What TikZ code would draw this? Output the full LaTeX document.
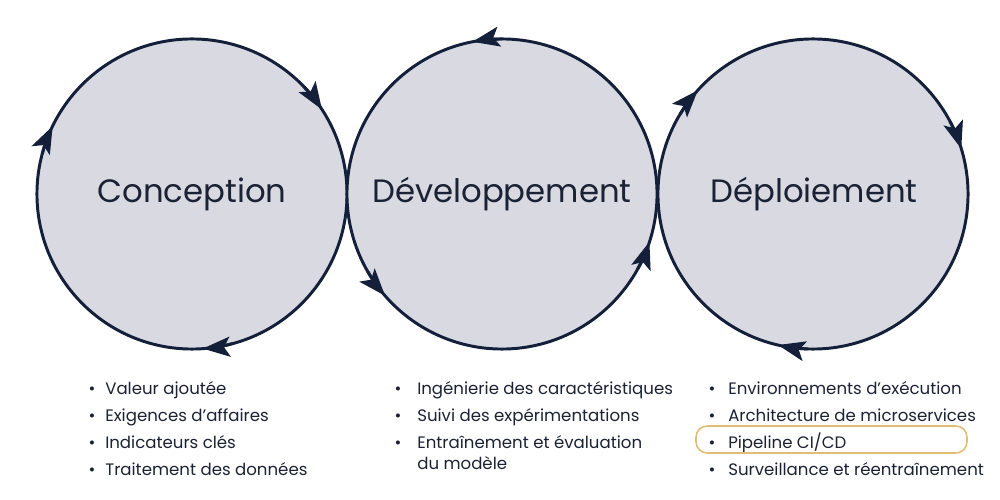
\documentclass[tikz,border=0pt]{standalone}
\usepackage{fontspec}
\setmainfont{Poppins}
\usetikzlibrary{arrows.meta}

\definecolor{ink}{HTML}{14203A}
\definecolor{txt}{HTML}{1B2233}
\definecolor{disc}{HTML}{D9D9E2}
\definecolor{gold}{HTML}{E2BC72}

\tikzset{
	phase/.style={circle, draw=ink, line width=2.1pt, fill=disc, minimum size=7.75cm, inner sep=0pt, outer sep=0pt},
	title/.style={anchor=base, text=txt, font=\fontsize{23}{28}\selectfont},
	flow/.style={draw=ink, line width=2.1pt, -{Stealth[length=0.68cm, width=0.5cm, inset=0.15cm]}},
	item/.style={anchor=base west, text=txt, font=\fontsize{11.8}{15}\selectfont, inner sep=0pt},
	dot/.style={anchor=base, text=txt, font=\fontsize{11.8}{15}\selectfont, inner sep=0pt},
}

\begin{document}
\begin{tikzpicture}[x=0.025cm, y=0.025cm]
							\useasboundingbox[fill=white] (0,0) rectangle (1000,500);
							
							% Draw the three phase circles
							\node[phase] (con) at (192,306) {};
							\node[phase] (dev) at (502,306) {};
							\node[phase] (dep) at (813,306) {};
							
							% Titles
							\node[title] (con-t) at (192,297) {Conception};
							\node[title] (dev-t) at (502,297) {Développement};
							\node[title] (dep-t) at (814,297) {Déploiement};
							
							% Draw arrows on the circles (clockwise, counterclockwise, clockwise)
							\foreach \a in {33,154,-86}
							\draw[flow] ([shift={(\a+11:155)}]con.center) arc[start angle=\a+11, end angle=\a, radius=155];
							\foreach \a in {101,-139,-18}
							\draw[flow] ([shift={(\a-11:155)}]dev.center) arc[start angle=\a-11, end angle=\a, radius=155];
							\foreach \a in {138,17,-103}
							\draw[flow] ([shift={(\a+11:155)}]dep.center) arc[start angle=\a+11, end angle=\a, radius=155];
							
							% Bullet list under Conception
							\foreach \txt [count=\i] in {Valeur ajoutée, Exigences d’affaires, Indicateurs clés, Traitement des données}{
								\node[dot] (con-b\i) at (92,105-27*\i+27) {•};
								\node[item] (con-\i) at (105,105-27*\i+27) {\txt};
							}
							
							% Bullet list under Développement
							\foreach \txt [count=\i] in {Ingénierie des caractéristiques, Suivi des expérimentations, Entraînement et évaluation}{
								\node[dot] (dev-b\i) at (398,105-27*\i+27) {•};
								\node[item] (dev-\i) at (417,105-27*\i+27) {\txt};
							}
							\node[item] (dev-4) at (417,30) {du modèle};
							
							% Bullet list under Déploiement
							\foreach \txt [count=\i] in {Environnements d’exécution, Architecture de microservices, Pipeline CI/CD, Surveillance et réentraînement}{
								\node[dot] (dep-b\i) at (712,105-27*\i+27) {•};
								\node[item] (dep-\i) at (728,105-27*\i+27) {\txt};
							}
							
							% Highlight box
							\draw[gold, line width=1.1pt, rounded corners=8] (696,74) rectangle (967,47);
						\end{tikzpicture}
\end{document}
